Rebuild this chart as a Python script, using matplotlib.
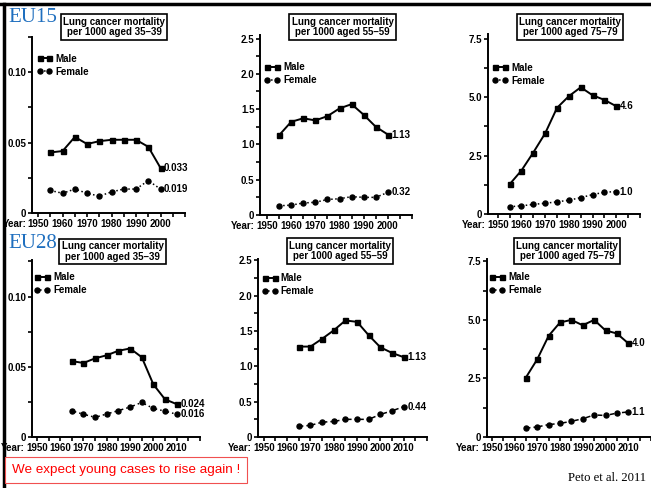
import matplotlib
matplotlib.use("Agg")
import matplotlib.pyplot as plt
from matplotlib.lines import Line2D

# data (rates per 1000)
years_eu15 = [1955, 1960, 1965, 1970, 1975, 1980, 1985, 1990, 1995, 2000]
years_eu28 = [1965, 1970, 1975, 1980, 1985, 1990, 1995, 2000, 2005, 2010]

eu15_male_35 = [0.043, 0.044, 0.054, 0.049, 0.051, 0.052, 0.052, 0.052, 0.047, 0.032]
eu15_female_35 = [0.016, 0.014, 0.017, 0.014, 0.012, 0.015, 0.017, 0.017, 0.023, 0.017]
eu15_male_55 = [1.13, 1.32, 1.37, 1.34, 1.40, 1.51, 1.57, 1.42, 1.25, 1.14]
eu15_female_55 = [0.13, 0.14, 0.17, 0.18, 0.22, 0.23, 0.26, 0.25, 0.25, 0.32]
eu15_male_75 = [1.27, 1.86, 2.63, 3.45, 4.54, 5.04, 5.42, 5.08, 4.88, 4.61]
eu15_female_75 = [0.31, 0.35, 0.41, 0.46, 0.52, 0.59, 0.70, 0.83, 0.93, 0.96]

eu28_male_35 = [0.054, 0.0527, 0.056, 0.0582, 0.0614, 0.063, 0.0568, 0.0374, 0.0268, 0.0234]
eu28_female_35 = [0.0186, 0.0162, 0.014, 0.0164, 0.0188, 0.0213, 0.0246, 0.0203, 0.0184, 0.0162]
eu28_male_55 = [1.28, 1.28, 1.39, 1.51, 1.65, 1.63, 1.44, 1.27, 1.19, 1.13]
eu28_female_55 = [0.15, 0.165, 0.21, 0.22, 0.25, 0.25, 0.25, 0.32, 0.37, 0.43]
eu28_male_75 = [2.54, 3.32, 4.32, 4.89, 5.0, 4.77, 5.0, 4.55, 4.42, 4.0]
eu28_female_75 = [0.38, 0.43, 0.53, 0.58, 0.67, 0.78, 0.94, 0.92, 1.02, 1.07]

end_labels = [["0.033", "0.019"], ["1.13", "0.32"], ["4.6", "1.0"],
              ["0.024", "0.016"], ["1.13", "0.44"], ["4.0", "1.1"]]
age_groups = ["35\u201339", "55\u201359", "75\u201379"]

W, H = 651, 488
fig = plt.figure(figsize=(W / 100, H / 100), dpi=100)
fig.patch.set_facecolor("white")

bold = dict(fontfamily="Liberation Sans", fontweight="bold")
tick_fs = 7


def make_axes(x0, x1, ytop, ybot):
    return fig.add_axes([x0 / W, 1 - ybot / H, (x1 - x0) / W, (ybot - ytop) / H])


# pixel boxes: (x0, x1, ytop, ybot), xlim, ylim, major step, legend anchor, title anchor
panels = [
    dict(box=(32, 185, 37, 213), xlim=(1947.5, 2002.5), ylim=(0, 0.125), step=0.05,
         fmt="{:.2f}", years=years_eu15, male=eu15_male_35, female=eu15_female_35,
         leg=(0.03, 0.905), title=(0.536, 1.057), ls=":"),
    dict(box=(260, 412, 35, 215), xlim=(1947.1, 2002.2), ylim=(0, 2.55), step=0.5,
         fmt="{:.1f}", years=years_eu15, male=eu15_male_55, female=eu15_female_55,
         leg=(0.03, 0.85), title=(0.543, 1.044), ls=":"),
    dict(box=(488, 640, 34, 214), xlim=(1945.9, 2002.2), ylim=(0, 7.7), step=2.5,
         fmt="{:.1f}", years=years_eu15, male=eu15_male_75, female=eu15_female_75,
         leg=(0.03, 0.84), title=(0.54, 1.039), ls=":"),
    dict(box=(32, 200, 260, 437), xlim=(1947.9, 2017.4), ylim=(0, 0.126), step=0.05,
         fmt="{:.2f}", years=years_eu28, male=eu28_male_35, female=eu28_female_35,
         leg=(0.015, 0.93), title=(0.48, 1.047), ls=(0, (3, 2, 1, 2))),
    dict(box=(258, 427, 259, 437), xlim=(1947.5, 2017.9), ylim=(0, 2.52), step=0.5,
         fmt="{:.1f}", years=years_eu28, male=eu28_male_55, female=eu28_female_55,
         leg=(0.025, 0.92), title=(0.485, 1.045), ls=(0, (3, 2, 1, 2))),
    dict(box=(487, 651, 259, 437), xlim=(1947.9, 2015.8), ylim=(0, 7.6), step=2.5,
         fmt="{:.1f}", years=years_eu28, male=eu28_male_75, female=eu28_female_75,
         leg=(0.015, 0.925), title=(0.488, 1.045), ls=(0, (3, 2, 1, 2))),
]

for i, p in enumerate(panels):
    ax = make_axes(*p["box"])
    ax.set_xlim(*p["xlim"])
    ax.set_ylim(*p["ylim"])
    for s in ["top", "right"]:
        ax.spines[s].set_visible(False)
    for s in ["left", "bottom"]:
        ax.spines[s].set_linewidth(1.4)
    ax.patch.set_alpha(0)

    last = 2000 if i < 3 else 2010
    ax.set_xticks(range(1950, last + 1, 10))
    ax.set_xticks(range(1955, last + 11, 5), minor=True)
    ax.set_xticklabels([str(y) for y in range(1950, last + 1, 10)], **bold, fontsize=tick_fs)
    ticks = [k * p["step"] for k in range(int(p["ylim"][1] / p["step"] + 1e-6) + 1)]
    ax.set_yticks(ticks)
    ax.set_yticklabels(["0"] + [p["fmt"].format(t) for t in ticks[1:]], **bold, fontsize=tick_fs)
    ax.set_yticks([t + p["step"] / 2 for t in ticks if t + p["step"] / 2 <= p["ylim"][1]], minor=True)
    ax.tick_params(which="both", direction="out", length=3, width=1.2, pad=1)
    ax.annotate("Year:", xy=(1950, 0), xycoords=("data", "axes fraction"),
                xytext=(-8.5, -4.2), textcoords="offset points", ha="right", va="top",
                fontsize=tick_fs, **bold)

    lm, = ax.plot(p["years"], p["male"], color="black", lw=1.4, marker="s", ms=3.6,
                  label="Male", clip_on=False)
    lf, = ax.plot(p["years"], p["female"], color="black", lw=1.1, ls=p["ls"], marker="o",
                  ms=3.6, label="Female", clip_on=False)

    ax.annotate(end_labels[i][0], xy=(p["years"][-1], p["male"][-1]), xytext=(2.5, 0),
                textcoords="offset points", va="center", ha="left", fontsize=7,
                annotation_clip=False, **bold)
    ax.annotate(end_labels[i][1], xy=(p["years"][-1], p["female"][-1]), xytext=(2.5, 0),
                textcoords="offset points", va="center", ha="left", fontsize=7,
                annotation_clip=False, **bold)

    ax.legend(handles=[lm, lf], loc="upper left", bbox_to_anchor=p["leg"],
              frameon=False, numpoints=2, handlelength=1.6, handletextpad=0.3,
              borderpad=0, borderaxespad=0, labelspacing=0.3,
              prop=dict(family="Liberation Sans", weight="bold", size=7))

    ax.text(p["title"][0], p["title"][1],
            "Lung cancer mortality\nper 1000 aged " + age_groups[i % 3],
            transform=ax.transAxes, ha="center", va="center", fontsize=7,
            linespacing=1.05, **bold,
            bbox=dict(boxstyle="square,pad=0.25", fc="white", ec="black", lw=1.2))

# region labels
fig.text(8 / W, 1 - 17 / H, "EU15", color="#1f6fbf", fontsize=15,
         fontfamily="Liberation Serif", va="center", ha="left")
fig.text(8 / W, 1 - 244 / H, "EU28", color="#1f6fbf", fontsize=15,
         fontfamily="Liberation Serif", va="center", ha="left")

fig.text(12 / W, 1 - 470 / H, "We expect young cases to rise again !", color="red",
         fontsize=9.7, fontfamily="Liberation Sans", va="center", ha="left",
         bbox=dict(boxstyle="square,pad=0.5", fc="white", ec="#f05050", lw=0.8))
fig.text(646 / W, 1 - 478 / H, "Peto et al. 2011", fontsize=9.1,
         fontfamily="Liberation Serif", va="center", ha="right")

# slide frame lines
fig.add_artist(Line2D([0, 1], [1 - 4 / H, 1 - 4 / H], color="black", lw=2.5,
                      transform=fig.transFigure))
fig.add_artist(Line2D([4 / W, 4 / W], [0, 1 - 4 / H], color="black", lw=2.5,
                      transform=fig.transFigure))

fig.savefig("out.png", dpi=100)
